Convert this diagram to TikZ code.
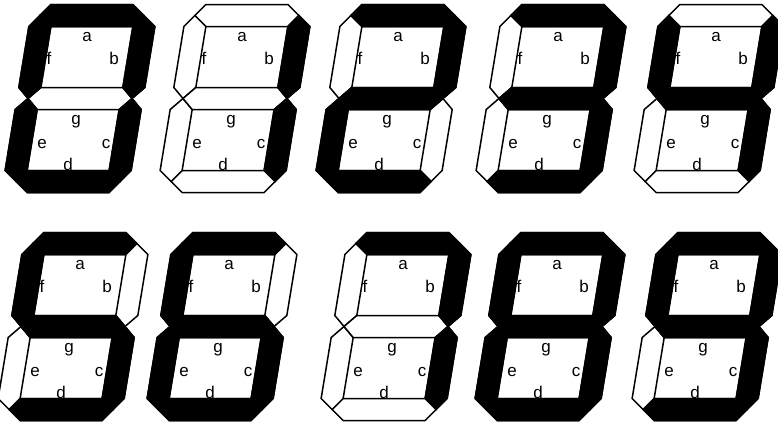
\documentclass[tikz,border=0pt]{standalone}
\usepackage{fontspec}
\setmainfont{Liberation Sans}
\usepackage{tikz}

% segment outlines of one digit, centre at the origin, y pointing down
\def\dsega{(-41,-72) -- (41,-72) -- (50.2,-83) -- (37.4,-94) -- (-44.6,-94) -- (-53.8,-83) -- cycle}
\def\dsegb{(41,-72) -- (50.2,-83) -- (63,-72) -- (63,-11) -- (52,0) -- (41,-11) -- cycle}
\def\dsegc{(41,11) -- (52,0) -- (63,11) -- (63,72) -- (53.8,83) -- (41,72) -- cycle}
\def\dsegd{(-41,72) -- (41,72) -- (53.8,83) -- (44.6,94) -- (-37.4,94) -- (-50.2,83) -- cycle}
\def\dsege{(-41,11) -- (-52,0) -- (-63,11) -- (-63,72) -- (-50.2,83) -- (-41,72) -- cycle}
\def\dsegf{(-41,-72) -- (-53.8,-83) -- (-63,-72) -- (-63,-11) -- (-52,0) -- (-41,-11) -- cycle}
\def\dsegg{(-52,0) -- (-41,-11) -- (41,-11) -- (52,0) -- (41,11) -- (-41,11) -- cycle}

% \digit{name}{x}{y}{segments that are lit}
\newcommand\digit[4]{%
  \begin{scope}[shift={(#2,#3)}, xslant=0.165]
    \foreach \s in {a,...,g}
      {\expandafter\let\expandafter\segpath\csname dseg\s\endcsname
       \draw[segoff] \segpath;}
    \foreach \s in {#4}
      {\expandafter\let\expandafter\segpath\csname dseg\s\endcsname
       \draw[segon] \segpath;}
  \end{scope}
  \begin{scope}[shift={(#2,#3)}]
    \node[lbl] (#1-a) at (7,-57.5)  {a};
    \node[lbl] (#1-f) at (-31,-34.5) {f};
    \node[lbl] (#1-b) at (34,-34.5)  {b};
    \node[lbl] (#1-g) at (-4,25.5)   {g};
    \node[lbl] (#1-e) at (-38,49.5)  {e};
    \node[lbl] (#1-c) at (26,49.5)   {c};
    \node[lbl] (#1-d) at (-12,71.5)  {d};
  \end{scope}}

\begin{document}
\begin{tikzpicture}[
  x=1pt, y=-1pt,
  segoff/.style={draw=black, fill=white, line width=1.5pt},
  segon/.style={draw=black, fill=black, line width=1.5pt},
  lbl/.style={anchor=base, inner sep=0pt, font=\fontsize{17}{20}\selectfont}
]
  \useasboundingbox (0,0) rectangle (778,424);

  % top row: 0 to 4
  \digit{zero}{80}{98.5}{a,b,c,d,e,f}
  \digit{one}{235}{98.5}{b,c}
  \digit{two}{391}{98.5}{a,b,g,e,d}
  \digit{three}{551}{98.5}{a,b,g,c,d}
  \digit{four}{709}{98.5}{f,g,b,c}

  % bottom row: 5 to 9
  \digit{five}{73}{326.5}{a,f,g,c,d}
  \digit{six}{222}{326.5}{a,f,g,e,d,c}
  \digit{seven}{396}{326.5}{a,b,c}
  \digit{eight}{550}{326.5}{a,b,c,d,e,f,g}
  \digit{nine}{707}{326.5}{a,b,c,d,f,g}
\end{tikzpicture}
\end{document}
